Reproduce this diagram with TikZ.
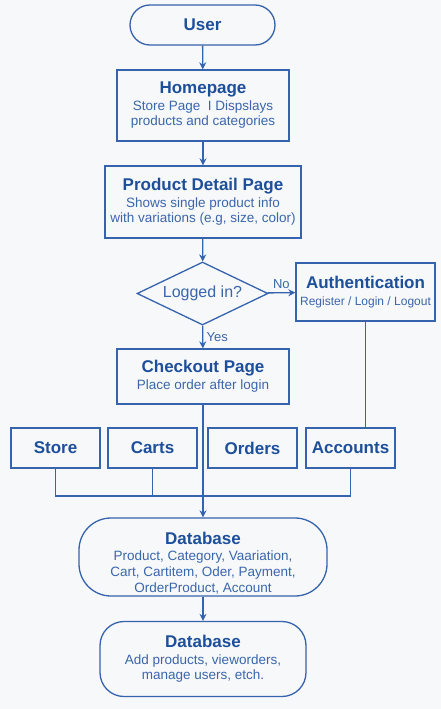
\documentclass[tikz,border=0pt]{standalone}
\usepackage{fontspec}
\setmainfont{Liberation Sans}
\usepackage{xcolor}
\usepackage{tikz}
\usetikzlibrary{arrows.meta}
\usetikzlibrary{shapes.geometric}
\usetikzlibrary{positioning}
\definecolor{bgcol}{HTML}{F7F8FA}
\definecolor{linecol}{HTML}{3563AD}
\definecolor{titlecol}{HTML}{1D4F9B}
\definecolor{textcol}{HTML}{3A66AC}
\newcommand{\nodetitle}[1]{{\fontsize{17}{17}\selectfont\bfseries\color{titlecol}#1}}
\tikzstyle{pagenode}=[draw=linecol, line width=1.3pt, shape=rectangle, fill=bgcol, text=textcol, align=center, inner sep=2pt, font=\fontsize{13.5}{15}\selectfont]
\tikzstyle{pillnode}=[pagenode, rounded corners=20pt]
\tikzstyle{decnode}=[draw=linecol, line width=1.3pt, shape=diamond, aspect=2, fill=bgcol, text=textcol, inner sep=0pt, font=\fontsize{16}{18}\selectfont]
\tikzstyle{tablenode}=[pagenode, minimum width=89pt, minimum height=40pt]
\tikzstyle{flow}=[-{Stealth[length=7pt, width=7pt]}, line width=1.3pt, color=linecol]
\tikzstyle{link}=[line width=1.3pt, color=linecol]

\begin{document}
\begin{tikzpicture}[x=1pt, y=-1pt]
\fill[bgcol] (0,0) rectangle (441,709);
\useasboundingbox (0,0) rectangle (441,709);

\node [pillnode, minimum width=145pt, minimum height=40pt] (user) at (202.5,25) {\nodetitle{User}};
\node [pagenode, minimum width=172pt, minimum height=71pt] (home) at (203,105.5) {\nodetitle{Homepage}\\[2pt] Store Page\ \ I Dispslays\\ products and categories};
\node [pagenode, minimum width=196pt, minimum height=72pt] (detail) at (203,202) {\nodetitle{Product Detail Page}\\[2pt] Shows single product info\\ with variations (e.g, size, color)};
\node [decnode, minimum width=131pt, minimum height=63pt] (logged) at (202.5,293.5) {Logged in?};
\node [pagenode, minimum width=139pt, minimum height=58pt] (auth) at (365.5,292) {\nodetitle{Authentication}\\[2pt] {\fontsize{12}{14}\selectfont Register / Login / Logout}};
\node [pagenode, minimum width=172pt, minimum height=55pt] (checkout) at (203,376.5) {\nodetitle{Checkout Page}\\[2pt] Place order after login};

\node [tablenode] (store) at (55.5,448) {\nodetitle{Store}};
\node [tablenode] (carts) at (152.5,448) {\nodetitle{Carts}};
\node [tablenode] (orders) at (252.5,448) {\nodetitle{Orders}};
\node [tablenode] (accounts) at (350.5,448) {\nodetitle{Accounts}};
\coordinate (bus) at (203,496);

\node [pagenode, rounded corners=32pt, minimum width=248pt, minimum height=78pt, font=\fontsize{13.5}{16}\selectfont] (db) at (203,557) {\rule{0pt}{24pt}\nodetitle{Database}\\ Product, Category, Vaariation,\\ Cart, Cartitem, Oder, Payment,\\ OrderProduct, Account};
\node [pagenode, rounded corners=24pt, minimum width=206pt, minimum height=75pt] (admin) at (203,659) {\nodetitle{Database}\\[2pt] Add products, vieworders,\\ manage users, etch.};

\draw[flow] (user) -- (home);
\draw[flow] (home) -- (detail);
\draw[flow] (detail) -- (logged);
\draw[flow] (logged) -- node[above, text=textcol, font=\fontsize{13}{15}\selectfont] {No} (auth);
\draw[flow] (logged) -- node[right, text=textcol, font=\fontsize{13}{15}\selectfont] {Yes} (checkout);
\draw[link] (auth.south) -- (auth.south |- accounts.north);
\draw[link] (store.south) -- (store.south |- bus) -- (accounts.south |- bus) -- (accounts.south);
\draw[link] (carts.south) -- (carts.south |- bus);
\draw[flow] (checkout) -- (db);
\draw[flow] (db) -- (admin);
\end{tikzpicture}
\end{document}
